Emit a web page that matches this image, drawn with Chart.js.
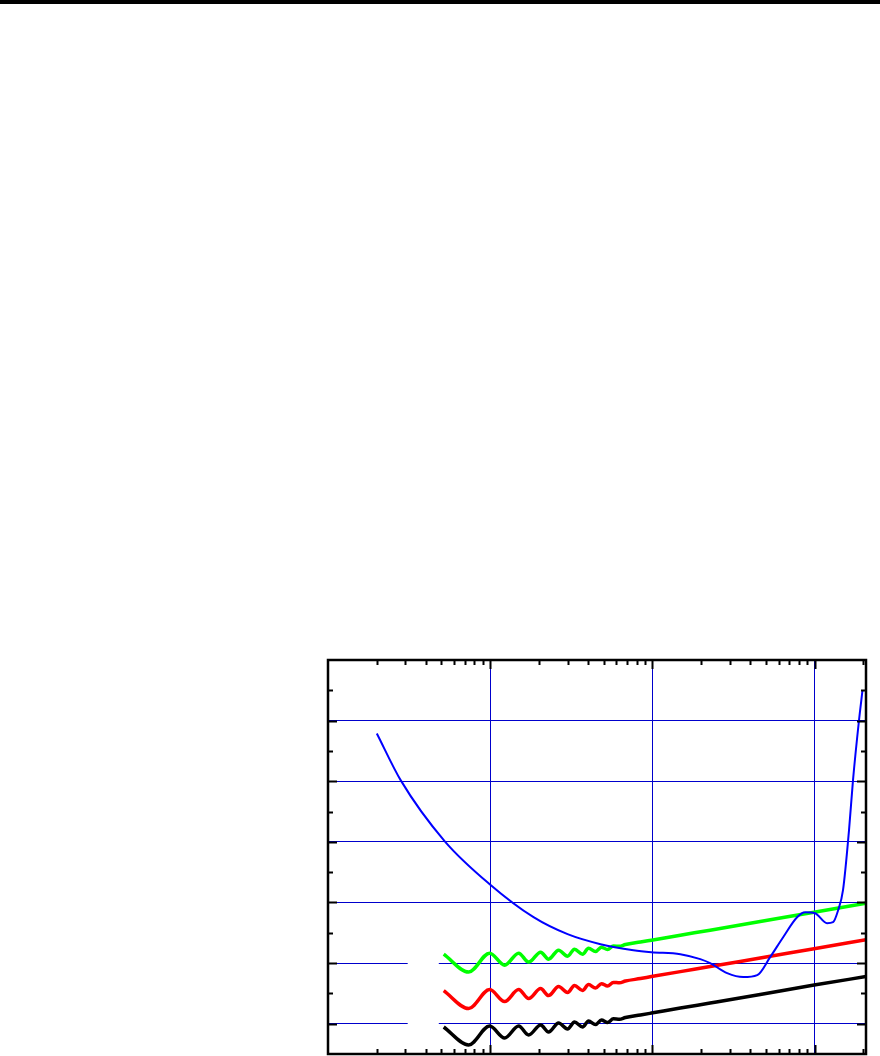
<!DOCTYPE html>
<html>
<head>
<meta charset="utf-8">
<script src="https://cdn.jsdelivr.net/npm/chart.js@4.4.1/dist/chart.umd.min.js"></script>
<style>
  html, body { margin: 0; padding: 0; background: #ffffff; }
  #wrap { position: relative; width: 880px; height: 1056px; overflow: hidden; }
  #topbar { position: absolute; left: 0; top: 0; width: 880px; height: 4px; background: #000; }
  canvas { position: absolute; left: 0; top: 0; }
</style>
</head>
<body>
<div id="wrap">
  <canvas id="c" width="880" height="1056"></canvas>
  <div id="topbar"></div>
</div>
<script>
// ---- data ----
const X_OSC   = [5.17, 7.37, 9.93, 12.28, 14.98, 17.26, 20.46, 22.9, 26.4, 30.0, 33.1, 37.1, 40.4, 44.6, 48.5, 52.9, 57.5, 62.6, 68.2, 84.4, 98.6, 148.7, 227, 462, 993, 2075];
const GREEN_Y = [2.147, 1.851, 2.164, 1.966, 2.164, 2.016, 2.180, 2.065, 2.213, 2.114, 2.230, 2.147, 2.246, 2.189, 2.263, 2.222, 2.283, 2.276, 2.306, 2.347, 2.378, 2.460, 2.543, 2.686, 2.839, 2.988];
const RED_Y   = [1.546, 1.250, 1.563, 1.365, 1.563, 1.414, 1.579, 1.464, 1.612, 1.513, 1.629, 1.546, 1.645, 1.587, 1.661, 1.620, 1.681, 1.675, 1.704, 1.745, 1.777, 1.859, 1.942, 2.085, 2.238, 2.386];
const BLACK_Y = [0.945, 0.648, 0.961, 0.764, 0.961, 0.813, 0.978, 0.862, 1.011, 0.912, 1.027, 0.945, 1.044, 0.986, 1.060, 1.019, 1.080, 1.073, 1.103, 1.144, 1.175, 1.258, 1.340, 1.480, 1.637, 1.777];

const X_BLUE = [2.0, 2.81, 5.25, 9.93, 18.5, 30.0, 47.9, 76.4, 98.6, 148.7, 197.4, 227, 289, 363, 443, 532, 640, 780, 875, 1007, 1194, 1300, 1397, 1497, 1630, 1725, 1878, 1974];
const BLUE_Y = [5.788, 5.014, 4.009, 3.301, 2.757, 2.477, 2.312, 2.213, 2.180, 2.147, 2.065, 1.999, 1.834, 1.769, 1.801, 2.098, 2.427, 2.757, 2.839, 2.823, 2.658, 2.675, 2.872, 3.202, 4.190, 5.014, 6.002, 6.497];

const X_MIN = 1, X_MAX = 2075;
const Y_MIN = 0.5, Y_MAX = 7;
const X_MAJOR = [10, 100, 1000];
const Y_MAJOR = [1, 2, 3, 4, 5, 6];
const Y_MINOR = [1.5, 2.5, 3.5, 4.5, 5.5, 6.5];
// blank box (hidden legend area) in data units
const BOX_X = [3.1, 4.82];
const BOX_Y = [0.55, 2.55];

function pts(xs, ys) { return xs.map((x, i) => ({ x: x, y: ys[i] })); }

const framePlugin = {
  id: 'frame',
  beforeDatasetsDraw(chart) {
    const ctx = chart.ctx, xs = chart.scales.x, ys = chart.scales.y;
    ctx.save();
    ctx.fillStyle = '#ffffff';
    const x0 = xs.getPixelForValue(BOX_X[0]), x1 = xs.getPixelForValue(BOX_X[1]);
    const y0 = ys.getPixelForValue(BOX_Y[1]), y1 = ys.getPixelForValue(BOX_Y[0]);
    ctx.fillRect(x0, y0, x1 - x0, y1 - y0);
    ctx.restore();
  },
  afterDatasetsDraw(chart) {
    const ctx = chart.ctx, xs = chart.scales.x, ys = chart.scales.y;
    const a = chart.chartArea;
    ctx.save();
    ctx.strokeStyle = '#000';
    ctx.lineWidth = 2;
    ctx.beginPath();
    for (let e = 0; e <= 3; e++) {
      for (let m = 1; m <= 9; m++) {
        const v = m * Math.pow(10, e);
        if (v <= X_MIN || v >= X_MAX) continue;
        const px = Math.round(xs.getPixelForValue(v)) + 0.5;
        const len = (m === 1) ? 9 : 5;
        ctx.moveTo(px, a.top); ctx.lineTo(px, a.top + len);
        ctx.moveTo(px, a.bottom); ctx.lineTo(px, a.bottom - len);
      }
    }
    Y_MAJOR.concat(Y_MINOR).forEach(v => {
      const py = Math.round(ys.getPixelForValue(v)) + 0.5;
      const len = Number.isInteger(v) ? 9 : 5;
      ctx.moveTo(a.left, py); ctx.lineTo(a.left + len, py);
      ctx.moveTo(a.right, py); ctx.lineTo(a.right - len, py);
    });
    ctx.stroke();
    ctx.lineWidth = 2.5;
    ctx.strokeRect(a.left, a.top, a.right - a.left, a.bottom - a.top);
    ctx.restore();
  }
};

new Chart(document.getElementById('c'), {
  type: 'line',
  data: {
    datasets: [
      { data: pts(X_BLUE, BLUE_Y), borderColor: '#0000ff', borderWidth: 2, cubicInterpolationMode: 'monotone' },
      { data: pts(X_OSC, GREEN_Y), borderColor: '#00ff00', borderWidth: 3.5, cubicInterpolationMode: 'monotone' },
      { data: pts(X_OSC, RED_Y), borderColor: '#ff0000', borderWidth: 3.5, cubicInterpolationMode: 'monotone' },
      { data: pts(X_OSC, BLACK_Y), borderColor: '#000000', borderWidth: 3.5, cubicInterpolationMode: 'monotone' }
    ]
  },
  options: {
    responsive: false,
    animation: false,
    layout: { padding: { left: 328, right: 14, top: 660, bottom: 2 } },
    elements: { point: { radius: 0 } },
    plugins: { legend: { display: false }, tooltip: { enabled: false } },
    scales: {
      x: {
        type: 'logarithmic', min: X_MIN, max: X_MAX,
        afterBuildTicks: s => { s.ticks = X_MAJOR.map(v => ({ value: v })); },
        ticks: { display: false },
        grid: { color: '#0000cc', lineWidth: 1, drawTicks: false },
        border: { display: false }
      },
      y: {
        type: 'linear', min: Y_MIN, max: Y_MAX,
        afterBuildTicks: s => { s.ticks = Y_MAJOR.map(v => ({ value: v })); },
        ticks: { display: false },
        grid: { color: '#0000cc', lineWidth: 1, drawTicks: false },
        border: { display: false }
      }
    }
  },
  plugins: [framePlugin]
});
</script>
</body>
</html>
